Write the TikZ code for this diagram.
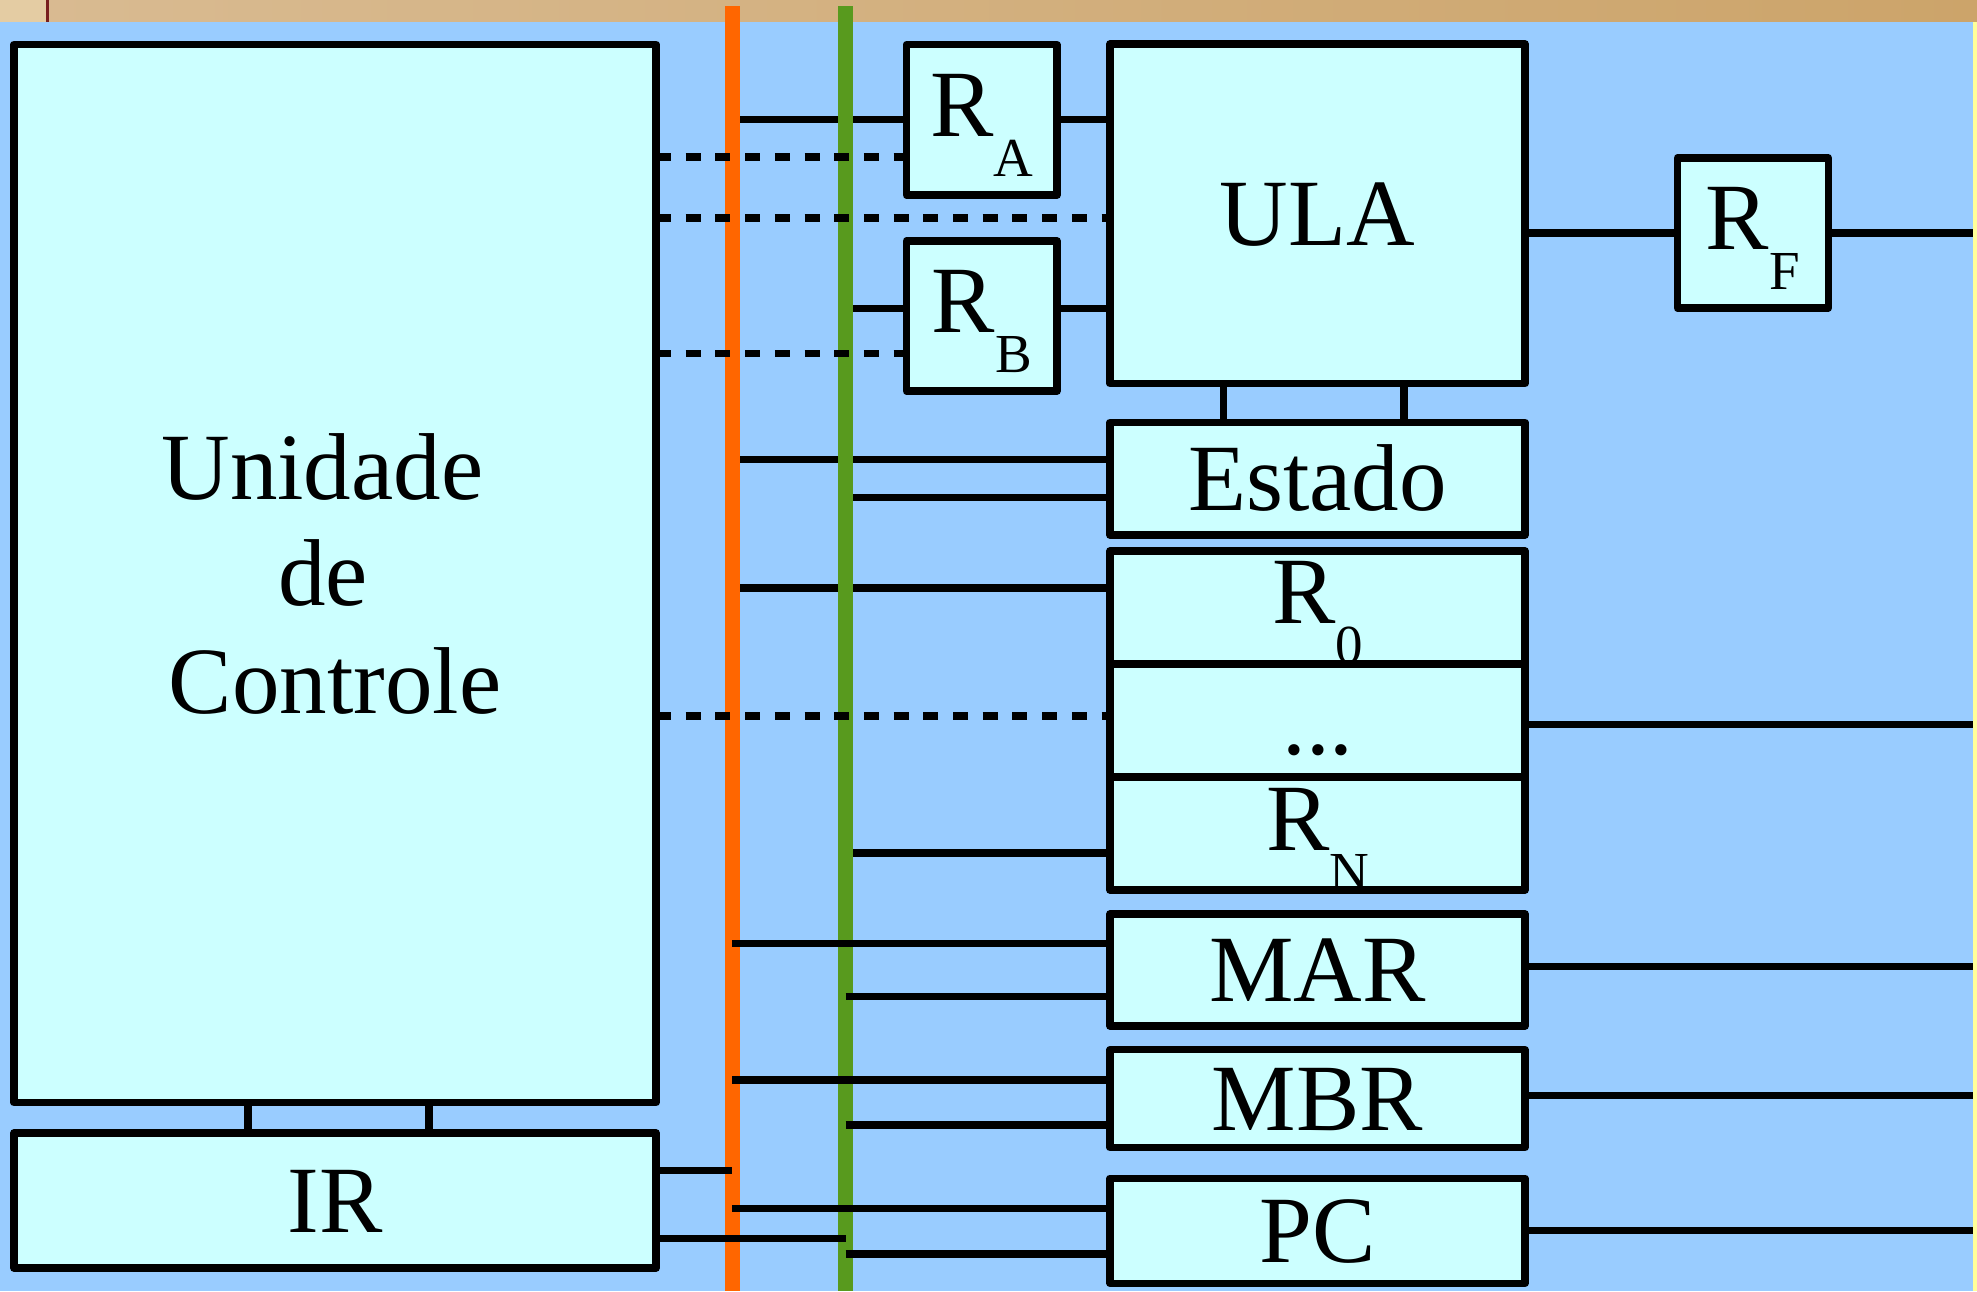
\documentclass[tikz,border=0pt]{standalone}
\usepackage{fontspec}
\setmainfont{Liberation Serif}
\definecolor{bgblue}{HTML}{99CCFF}
\definecolor{boxfill}{HTML}{CCFFFF}
\definecolor{busorange}{HTML}{FF6600}
\definecolor{busgreen}{HTML}{589A1E}
\definecolor{tanL}{RGB}{217,187,146}
\definecolor{tanR}{RGB}{204,164,106}
\definecolor{tanLL}{RGB}{228,204,163}
\definecolor{darkred}{RGB}{120,30,30}
\definecolor{edgeyellow}{HTML}{FFFF99}
\newcommand\bigfont{\fontsize{95}{110}\selectfont}
\newcommand\regsub[2]{#1\raisebox{-40pt}{\fontsize{55}{55}\selectfont #2}}
\tikzset{
  box/.style={draw=black, fill=boxfill, line width=7.5pt, line join=round,
    inner sep=0pt, outer sep=0pt, font=\bigfont, text height=63pt, text depth=0pt},
  lbl/.style={inner sep=0pt, outer sep=0pt, anchor=base, font=\bigfont},
  wire/.style={line width=7.5pt},
  dwire/.style={line width=7.5pt, dash pattern=on 15pt off 14.7pt},
  bus/.style={line width=15pt},
}
\begin{document}
\begin{tikzpicture}[x=1pt, y=-1pt]
\useasboundingbox (0,0) rectangle (1977,1291);
% background
\shade[left color=tanL, right color=tanR] (0,0) rectangle (1977,21.5);
\fill[tanLL] (0,0) rectangle (46,21.5);
\fill[darkred] (46,0) rectangle (48.5,21.5);
\fill[bgblue] (0,21.5) rectangle (1972.5,1291);
\fill[edgeyellow] (1972.5,21.5) rectangle (1977,1291);

\coordinate (ob) at (732,6);
\coordinate (gb) at (845.5,6);
\coordinate (edgeR) at (1972.5,0);

% boxes
\node[box, minimum width=642pt, minimum height=1058pt] (ctl) at (335,573.5) {};
\node[box, minimum width=642pt, minimum height=135pt] (ir) at (335,1200.5) {IR};
\node[box, minimum width=150.5pt, minimum height=150.3pt] (ra) at (981.75,119.85) {};
\node[box, minimum width=150.5pt, minimum height=150pt] (rb) at (981.75,316) {};
\node[box, minimum width=415pt, minimum height=339.5pt] (ula) at (1317.5,213.75) {ULA};
\node[box, minimum width=150.8pt, minimum height=150pt] (rf) at (1752.9,233) {};
\node[box, minimum width=415pt, minimum height=112.5pt] (est) at (1317.5,478.75) {Estado};
\node[box, minimum width=415pt, minimum height=339pt] (regs) at (1317.5,720.5) {};
\node[box, minimum width=415pt, minimum height=112pt] (mar) at (1317.5,970) {MAR};
\node[box, minimum width=415pt, minimum height=97.8pt] (mbr) at (1317.5,1098.6) {MBR};
\node[box, minimum width=415pt, minimum height=105pt] (pc) at (1317.5,1230.8) {PC};

% labels
\node[lbl] (ctlA) at (322.4,499.8) {Unidade};
\node[lbl] (ctlB) at (323,605.4) {de};
\node[lbl] (ctlC) at (335,713.3) {Controle};
\node[lbl] (raT) at (981.75,136) {\regsub{R}{A}};
\node[lbl] (rbT) at (981.75,332.7) {\regsub{R}{B}};
\node[lbl] (rfT) at (1752.9,249.3) {\regsub{R}{F}};
\node[lbl] (r0T) at (1317.5,623.3) {\regsub{R}{0}};
\node[lbl] (dotsT) at (1318,754) {...};
\node[lbl] (rnT) at (1318,850) {\regsub{R}{N}};

% register separators
\draw[wire] (regs.west |- 0,664) -- (regs.east |- 0,664);
\draw[wire] (regs.west |- 0,777) -- (regs.east |- 0,777);

% vertical stubs
\draw[wire] (1223.3,0 |- ula.south) -- (1223.3,0 |- est.north);
\draw[wire] (1404,0 |- ula.south) -- (1404,0 |- est.north);
\draw[wire] (248,0 |- ctl.south) -- (248,0 |- ir.north);
\draw[wire] (429,0 |- ctl.south) -- (429,0 |- ir.north);

% connectors behind the buses
\draw[wire] (ob |- 0,119.3) -- (ra.west |- 0,119.3);
\draw[wire] (gb |- 0,308.7) -- (rb.west |- 0,308.7);
\draw[wire] (ob |- 0,459.5) -- (est.west |- 0,459.5);
\draw[wire] (gb |- 0,497.7) -- (est.west |- 0,497.7);
\draw[wire] (ob |- 0,588) -- (regs.west |- 0,588);
\draw[wire] (gb |- 0,853) -- (regs.west |- 0,853);

% ALU side connectors
\draw[wire] (ra.east |- 0,119.3) -- (ula.west |- 0,119.3);
\draw[wire] (rb.east |- 0,308.7) -- (ula.west |- 0,308.7);
\draw[wire] (ula.east |- rf.west) -- (rf.west);
\draw[wire] (rf.east) -- (edgeR |- rf.east);
\draw[wire] (regs.east |- 0,724.3) -- (edgeR |- 0,724.3);
\draw[wire] (mar.east |- 0,966.7) -- (edgeR |- 0,966.7);
\draw[wire] (mbr.east |- 0,1095.4) -- (edgeR |- 0,1095.4);
\draw[wire] (pc.east |- 0,1230.7) -- (edgeR |- 0,1230.7);

% buses
\draw[bus, busorange] (ob) -- (ob |- 0,1291);
\draw[bus, busgreen] (gb) -- (gb |- 0,1291);

% connectors on top of the buses
\draw[wire] (ob |- 0,943.3) -- (mar.west |- 0,943.3);
\draw[wire] (gb |- 0,996.7) -- (mar.west |- 0,996.7);
\draw[wire] (ob |- 0,1079.8) -- (mbr.west |- 0,1079.8);
\draw[wire] (gb |- 0,1125) -- (mbr.west |- 0,1125);
\draw[wire] (ob |- 0,1208.3) -- (pc.west |- 0,1208.3);
\draw[wire] (gb |- 0,1254) -- (pc.west |- 0,1254);
\draw[wire] (ir.east |- 0,1170.5) -- (ob |- 0,1170.5);
\draw[wire] (ir.east |- 0,1238.3) -- (gb |- 0,1238.3);

% control (dashed) lines
\draw[dwire] (ctl.east |- 0,157) -- (ra.west |- 0,157);
\draw[dwire] (ctl.east |- 0,218) -- (ula.west |- 0,218);
\draw[dwire] (ctl.east |- 0,353.3) -- (rb.west |- 0,353.3);
\draw[dwire] (ctl.east |- 0,716) -- (regs.west |- 0,716);
\end{tikzpicture}
\end{document}
